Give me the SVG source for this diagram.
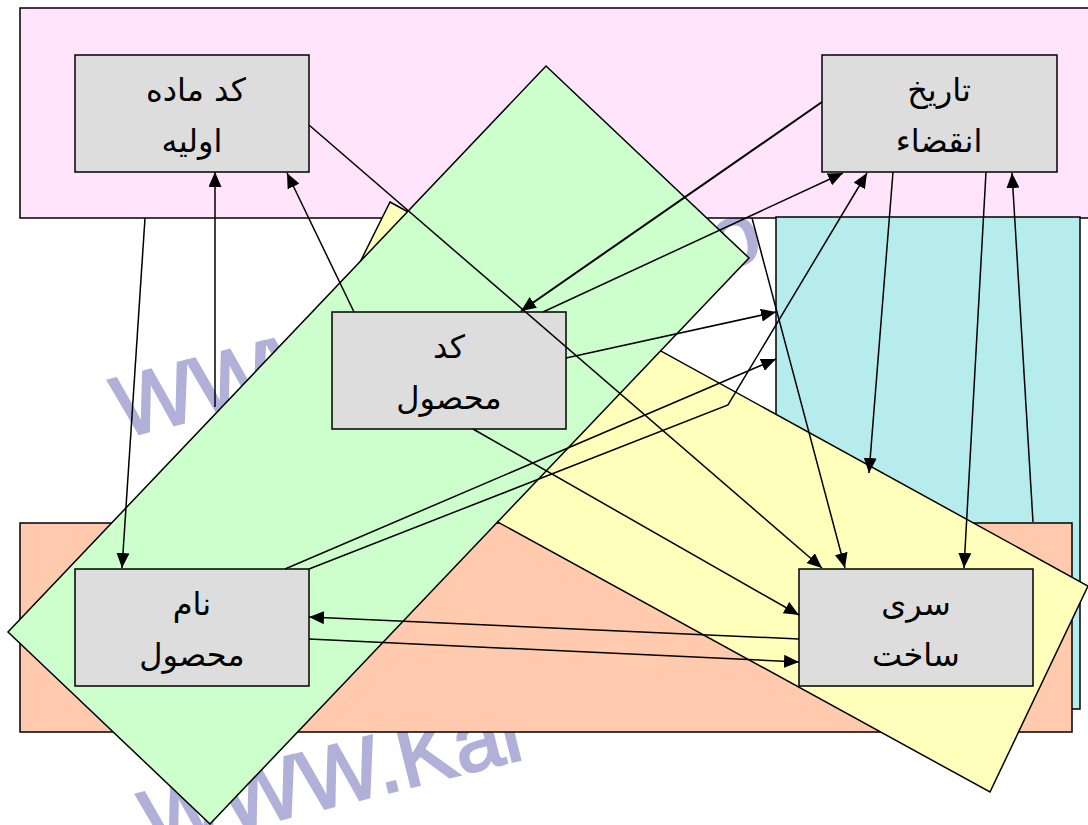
<svg xmlns="http://www.w3.org/2000/svg" width="1088" height="825" viewBox="0 0 1088 825">
  <style>
    .wm { font-family: "Liberation Sans", Arial, sans-serif; font-size: 86px; fill: #B0B0D8; stroke: #B0B0D8; stroke-width: 2.5; }
    .area { stroke: #000; stroke-width: 1.5; }
    .box { fill: #DDDDDD; stroke: #000; stroke-width: 1.5; }
    .label { font-family: "DejaVu Sans", "Noto Sans", sans-serif; font-size: 32px; fill: #000; text-anchor: middle; }
    .edge { fill: none; stroke: #000; stroke-width: 1.5; }
    .arrow { marker-end: url(#head); }
  </style>
  <defs>
    <marker id="head" markerUnits="userSpaceOnUse" markerWidth="15" markerHeight="13" refX="15" refY="6.5" orient="auto">
      <path d="M0,0 L15,6.5 L0,13 Z" fill="#000"/>
    </marker>
  </defs>

  <rect width="1088" height="825" fill="#FFFFFF"/>

  <!-- background watermark -->
  <g id="watermark">
    <text class="wm" x="122" y="438" transform="rotate(-14 122 438)">WWW.Kar</text>
    <text class="wm" x="718" y="270" transform="rotate(-14 718 270)">o</text>
    <text class="wm" x="150" y="852" transform="rotate(-14 150 852)">WWW.Kar</text>
  </g>

  <!-- grouping areas -->
  <g id="areas">
    <rect id="area-pink" class="area" x="20" y="8" width="1090" height="210" fill="#FFE4FC"/>
    <rect id="area-cyan" class="area" x="776" y="217" width="304" height="492" fill="#B6ECEC"/>
    <rect id="area-salmon" class="area" x="20" y="523" width="1052" height="209" fill="#FFCAAE"/>
    <polygon id="area-yellow" class="area" points="390,202 1088,586 990,792 288,407" fill="#FFFFBB"/>
    <polygon id="area-green" class="area" points="546,66 749,258 210,824 8,632" fill="#CCFFCC"/>
  </g>

  <!-- entities -->
  <g id="node-raw-material">
    <rect class="box" x="75" y="55" width="234" height="117"/>
    <text class="label" x="196" y="101">کد ماده</text>
    <text class="label" x="192" y="152">اولیه</text>
  </g>
  <g id="node-expiry">
    <rect class="box" x="822" y="55" width="235" height="117"/>
    <text class="label" x="939" y="101">تاریخ</text>
    <text class="label" x="939" y="152">انقضاء</text>
  </g>
  <g id="node-product-code">
    <rect class="box" x="332" y="312" width="234" height="117"/>
    <text class="label" x="449" y="358">کد</text>
    <text class="label" x="449" y="409">محصول</text>
  </g>
  <g id="node-product-name">
    <rect class="box" x="75" y="569" width="234" height="117"/>
    <text class="label" x="192" y="615">نام</text>
    <text class="label" x="192" y="666">محصول</text>
  </g>
  <g id="node-batch">
    <rect class="box" x="799" y="569" width="234" height="117"/>
    <text class="label" x="916" y="615">سری</text>
    <text class="label" x="916" y="666">ساخت</text>
  </g>

  <!-- dependencies -->
  <g id="connectors">
    <line class="edge arrow" x1="145" y1="218" x2="122" y2="568"/>
    <line class="edge arrow" x1="215" y1="407" x2="215" y2="172"/>
    <line class="edge arrow" x1="354" y1="312" x2="287" y2="173"/>
    <line class="edge arrow" x1="309" y1="125" x2="822" y2="568"/>
    <line class="edge arrow" x1="822" y1="102" x2="521" y2="311" style="stroke-width:2"/>
    <line class="edge arrow" x1="543" y1="312" x2="843" y2="173"/>
    <line class="edge arrow" x1="566" y1="358" x2="776" y2="312"/>
    <line class="edge arrow" x1="285" y1="569" x2="776" y2="359"/>
    <polyline class="edge arrow" points="309,569 728,405 867,173"/>
    <line class="edge arrow" x1="473" y1="429" x2="799" y2="615"/>
    <line class="edge arrow" x1="799" y1="639" x2="309" y2="617"/>
    <line class="edge arrow" x1="309" y1="639" x2="799" y2="662"/>
    <line class="edge arrow" x1="752" y1="218" x2="845" y2="568"/>
    <line class="edge arrow" x1="893" y1="172" x2="869" y2="473"/>
    <line class="edge arrow" x1="986" y1="172" x2="964" y2="568"/>
    <line class="edge arrow" x1="1033" y1="522" x2="1012" y2="173"/>
  </g>
</svg>
